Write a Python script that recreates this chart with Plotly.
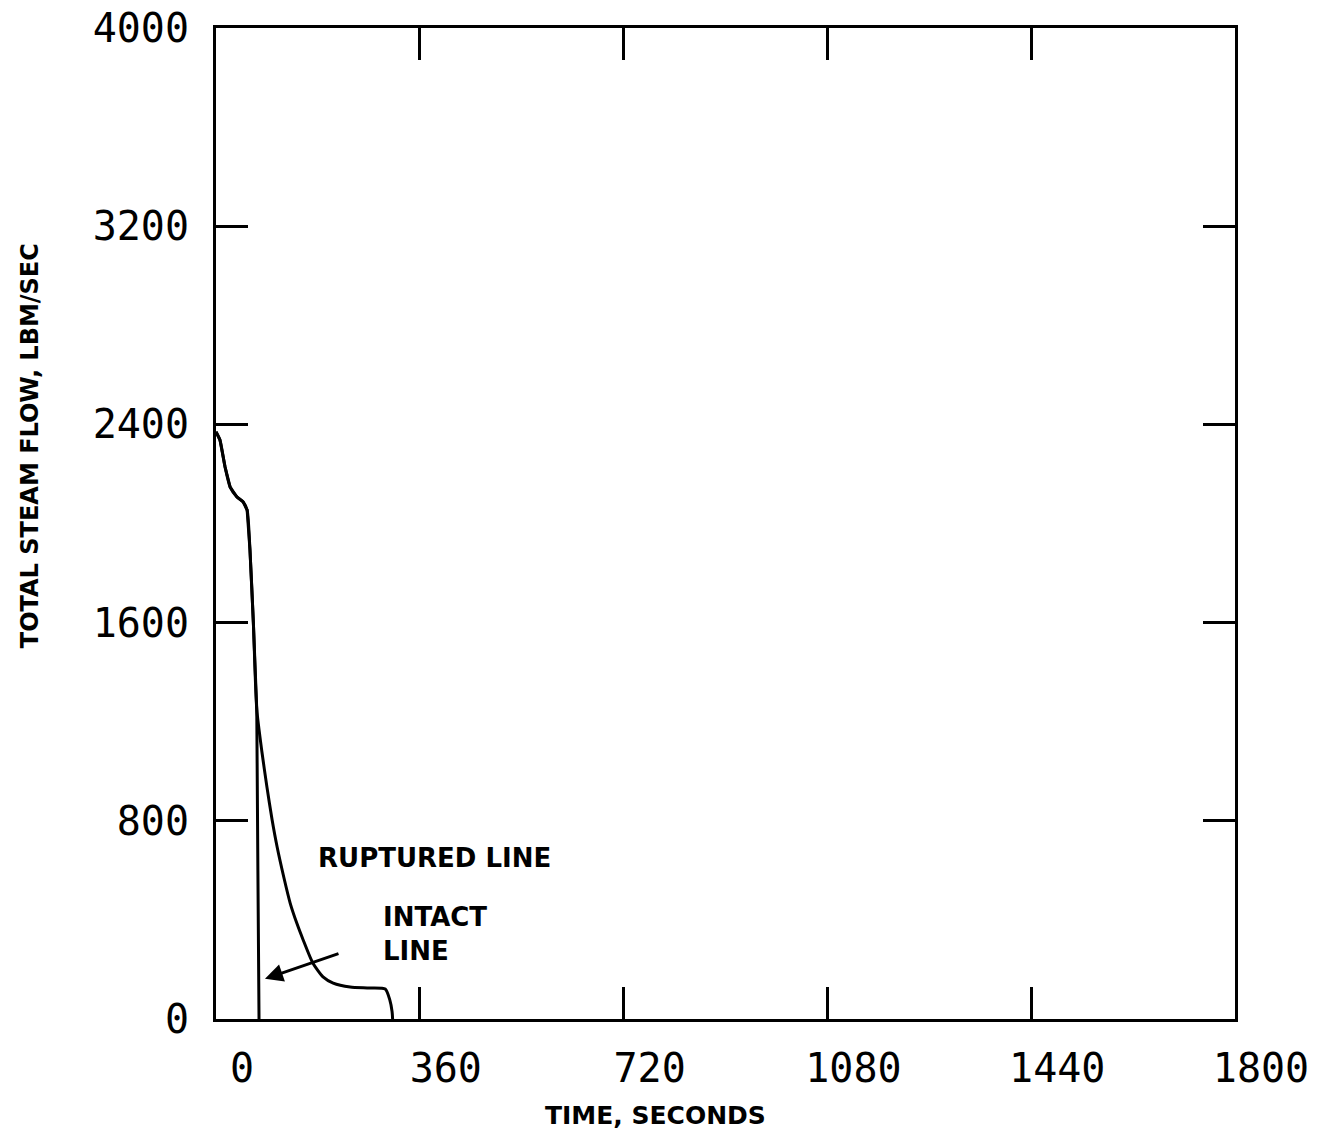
import plotly.graph_objects as go

# ---- data ----
shared_t = [0, 7, 16, 25, 37, 48, 55, 60, 66, 72]
shared_v = [2370, 2337, 2228, 2147, 2107, 2087, 2054, 1893, 1600, 1250]

intact_t = shared_t + [74, 76]
intact_v = shared_v + [600, 0]

ruptured_t = shared_t + [81, 90, 99, 108, 120, 131, 143, 154, 171, 189, 207, 237, 267, 299, 307, 311, 312]
ruptured_v = shared_v + [1080, 936, 805, 694, 570, 468, 385, 319, 226, 170, 145, 129, 125, 121, 77, 30, 0]

x_ticks = [0, 360, 720, 1080, 1440, 1800]
y_ticks = [0, 800, 1600, 2400, 3200, 4000]

fig = go.Figure()
fig.add_trace(go.Scatter(x=intact_t, y=intact_v, mode="lines",
                         line=dict(color="black", width=3), name="INTACT LINE"))
fig.add_trace(go.Scatter(x=ruptured_t, y=ruptured_v, mode="lines",
                         line=dict(color="black", width=3, shape="spline", smoothing=0.6),
                         name="RUPTURED LINE"))

tickfont = dict(family="DejaVu Sans Mono", size=40, color="black")
fig.update_xaxes(range=[0, 1800], tickvals=x_ticks, ticktext=[str(v) for v in x_ticks],
                 showline=True, linewidth=3, linecolor="black", mirror="ticks",
                 ticks="inside", ticklen=32, tickwidth=3, tickcolor="black",
                 showgrid=False, zeroline=False, tickfont=tickfont, automargin=False,
                 ticklabelshift=26, ticklabelstandoff=12, ticklabeloverflow="allow")
fig.update_yaxes(range=[0, 4000], tickvals=y_ticks, ticktext=[str(v) for v in y_ticks],
                 showline=True, linewidth=3, linecolor="black", mirror="ticks",
                 ticks="inside", ticklen=32, tickwidth=3, tickcolor="black",
                 showgrid=False, zeroline=False, tickfont=tickfont, automargin=False,
                 ticklabelstandoff=16, ticklabeloverflow="allow")

bold = dict(family="DejaVu Sans", size=26, color="black", weight="bold")
fig.add_annotation(x=177, y=650, xref="x", yref="y", text="RUPTURED LINE",
                   showarrow=False, xanchor="left", yanchor="middle", font=bold)
fig.add_annotation(x=291, y=343, xref="x", yref="y", text="INTACT<br>LINE",
                   showarrow=False, xanchor="left", yanchor="middle", align="left", font=bold)
fig.add_annotation(x=86.5, y=162, ax=219, ay=266, xref="x", yref="y", axref="x", ayref="y",
                   text="", showarrow=True, arrowhead=2, arrowsize=1.2, arrowwidth=3,
                   arrowcolor="black")

title_font = dict(family="DejaVu Sans", size=24, color="black", weight="bold")
fig.add_annotation(x=-0.1825, y=0.578, xref="paper", yref="paper",
                   text="TOTAL STEAM FLOW, LBM/SEC", textangle=-90, showarrow=False,
                   xanchor="center", yanchor="middle", font=title_font)
fig.add_annotation(x=0.431, y=-0.097, xref="paper", yref="paper",
                   text="TIME, SECONDS", showarrow=False,
                   xanchor="center", yanchor="middle", font=dict(title_font, size=25))

fig.update_layout(width=1339, height=1144, showlegend=False,
                  paper_bgcolor="white", plot_bgcolor="white",
                  margin=dict(l=216, r=104, t=28, b=125))

fig.write_html("out.html", config={"displayModeBar": False},
               post_script="document.body.style.margin='0';")
